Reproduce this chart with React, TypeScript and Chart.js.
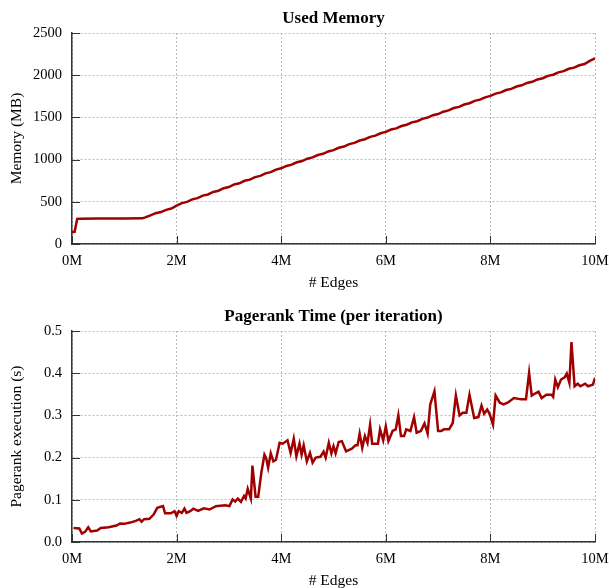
import { useEffect, useRef } from 'react';
import { Chart, registerables } from 'chart.js';

Chart.register(...registerables);

// ---- data (edges in millions) ----
const memEdges = [
  0, 0.05, 0.1, 0.15, 0.5, 1.0, 1.35, 1.4, 1.5, 1.6, 1.7, 1.8, 1.9,
  2.0, 2.1, 2.2, 2.3, 2.4, 2.5, 2.6, 2.7, 2.8, 2.9,
  3.0, 3.1, 3.2, 3.3, 3.4, 3.5, 3.6, 3.7, 3.8, 3.9,
  4.0, 4.1, 4.2, 4.3, 4.4, 4.5, 4.6, 4.7, 4.8, 4.9,
  5.0, 5.1, 5.2, 5.3, 5.4, 5.5, 5.6, 5.7, 5.8, 5.9,
  6.0, 6.1, 6.2, 6.3, 6.4, 6.5, 6.6, 6.7, 6.8, 6.9,
  7.0, 7.1, 7.2, 7.3, 7.4, 7.5, 7.6, 7.7, 7.8, 7.9,
  8.0, 8.1, 8.2, 8.3, 8.4, 8.5, 8.6, 8.7, 8.8, 8.9,
  9.0, 9.1, 9.2, 9.3, 9.4, 9.5, 9.6, 9.7, 9.8, 9.9, 10.0,
];
const memValues = [
  142, 145, 298, 300, 301, 302, 304, 315, 340, 365, 378, 405, 420,
  455, 485, 499, 529, 543, 573, 587, 617, 631, 661,
  675, 705, 719, 749, 763, 793, 807, 837, 851, 881,
  897, 925, 940, 968, 983, 1011, 1026, 1054, 1069, 1097,
  1112, 1140, 1155, 1183, 1198, 1226, 1241, 1269, 1284, 1312,
  1328, 1356, 1370, 1398, 1413, 1441, 1455, 1483, 1498, 1526,
  1540, 1568, 1583, 1611, 1625, 1653, 1668, 1696, 1710, 1738,
  1755, 1782, 1796, 1824, 1838, 1866, 1880, 1908, 1922, 1950,
  1964, 1992, 2006, 2034, 2048, 2076, 2090, 2118, 2132, 2170, 2200,
];

const prEdges = [
  0.03, 0.14, 0.19, 0.25, 0.31, 0.36, 0.48, 0.55, 0.70, 0.85, 0.92, 1.00,
  1.11, 1.22, 1.29, 1.33, 1.38, 1.48, 1.56, 1.63, 1.74, 1.78, 1.89, 1.96,
  2.00, 2.04, 2.10, 2.15, 2.19, 2.26, 2.32, 2.41, 2.52, 2.63, 2.75, 2.93,
  3.01, 3.07, 3.12, 3.17, 3.23, 3.29, 3.32, 3.36, 3.42, 3.45, 3.51, 3.56,
  3.62, 3.68, 3.71, 3.75, 3.80, 3.85, 3.90, 3.97, 4.03, 4.12, 4.18, 4.24,
  4.29, 4.35, 4.39, 4.43, 4.49, 4.55, 4.60, 4.66, 4.75, 4.81, 4.85, 4.91,
  4.96, 5.00, 5.04, 5.10, 5.16, 5.24, 5.35, 5.42, 5.46, 5.50, 5.55, 5.60,
  5.65, 5.70, 5.74, 5.85, 5.89, 5.95, 6.00, 6.05, 6.13, 6.19, 6.24, 6.29,
  6.35, 6.39, 6.47, 6.54, 6.59, 6.67, 6.74, 6.80, 6.85, 6.93, 7.00, 7.06,
  7.11, 7.21, 7.28, 7.34, 7.41, 7.47, 7.54, 7.60, 7.69, 7.77, 7.83, 7.88,
  7.94, 7.99, 8.05, 8.10, 8.18, 8.25, 8.33, 8.45, 8.59, 8.68, 8.74, 8.79,
  8.87, 8.92, 8.98, 9.07, 9.17, 9.20, 9.24, 9.29, 9.35, 9.42, 9.46, 9.51,
  9.55, 9.61, 9.67, 9.72, 9.81, 9.87, 9.96, 10.00,
];
const prTime = [
  0.033, 0.032, 0.020, 0.024, 0.035, 0.025, 0.027, 0.033, 0.035, 0.039, 0.044, 0.043,
  0.046, 0.050, 0.054, 0.048, 0.054, 0.055, 0.065, 0.081, 0.085, 0.068, 0.068, 0.073,
  0.062, 0.073, 0.069, 0.079, 0.069, 0.073, 0.079, 0.074, 0.080, 0.077, 0.085, 0.087,
  0.085, 0.101, 0.096, 0.103, 0.095, 0.109, 0.103, 0.126, 0.103, 0.181, 0.107, 0.107,
  0.164, 0.207, 0.200, 0.176, 0.210, 0.191, 0.195, 0.235, 0.233, 0.241, 0.211, 0.245,
  0.203, 0.233, 0.207, 0.229, 0.191, 0.211, 0.188, 0.200, 0.202, 0.214, 0.200, 0.235,
  0.210, 0.227, 0.210, 0.237, 0.239, 0.215, 0.221, 0.229, 0.229, 0.257, 0.223, 0.251,
  0.235, 0.278, 0.233, 0.233, 0.267, 0.241, 0.274, 0.239, 0.263, 0.267, 0.300, 0.251,
  0.251, 0.267, 0.263, 0.296, 0.259, 0.263, 0.281, 0.257, 0.326, 0.357, 0.263, 0.263,
  0.267, 0.267, 0.282, 0.347, 0.300, 0.306, 0.306, 0.349, 0.294, 0.296, 0.323, 0.304,
  0.314, 0.302, 0.278, 0.347, 0.330, 0.326, 0.330, 0.341, 0.338, 0.338, 0.401, 0.347,
  0.353, 0.356, 0.341, 0.349, 0.349, 0.344, 0.385, 0.367, 0.385, 0.390, 0.399, 0.377,
  0.474, 0.369, 0.375, 0.369, 0.375, 0.369, 0.373, 0.389,
];

const xTickValues = [0, 2, 4, 6, 8, 10];
const memTickValues = [0, 500, 1000, 1500, 2000, 2500];
const prTickValues = [0, 0.1, 0.2, 0.3, 0.4, 0.5];

const FONT = "'Liberation Serif', 'DejaVu Serif', serif";
const LINE_COLOR = '#a00000';

const innerTicks = {
  id: 'innerTicks',
  beforeDatasetsDraw(chart: any) {
    const { ctx, chartArea, scales } = chart;
    ctx.save();
    ctx.strokeStyle = '#333';
    ctx.lineWidth = 1;
    scales.x.ticks.forEach((t: any) => {
      const px = Math.round(scales.x.getPixelForValue(t.value)) + 0.5;
      ctx.beginPath();
      ctx.moveTo(px, chartArea.bottom);
      ctx.lineTo(px, chartArea.bottom - 8);
      ctx.stroke();
    });
    scales.y.ticks.forEach((t: any) => {
      const py = Math.round(scales.y.getPixelForValue(t.value)) + 0.5;
      ctx.beginPath();
      ctx.moveTo(chartArea.left, py);
      ctx.lineTo(chartArea.left + 8, py);
      ctx.stroke();
    });
    ctx.restore();
  },
};

function makeConfig(
  title: string,
  yTitle: string,
  xs: number[],
  ys: number[],
  yTicks: number[],
  yFmt: (v: number) => string,
): any {
  const grid = { color: '#bbbbbb', lineWidth: 1, drawTicks: false };
  const border = { display: true, color: '#333', width: 1.5, dash: [2, 2] };
  return {
    type: 'line',
    data: {
      datasets: [
        {
          data: xs.map((x, i) => ({ x, y: ys[i] })),
          borderColor: LINE_COLOR,
          borderWidth: 2.5,
          pointRadius: 0,
          tension: 0,
          fill: false,
        },
      ],
    },
    options: {
      animation: false,
      responsive: false,
      devicePixelRatio: 1,
      layout: { padding: { top: 0, right: 14, left: 0, bottom: 0 } },
      plugins: {
        legend: { display: false },
        tooltip: { enabled: false },
        title: {
          display: true,
          text: title,
          fullSize: false,
          color: '#000',
          font: { family: FONT, size: 17, weight: 'bold' },
          padding: { top: 8.8, bottom: 3.8 },
        },
      },
      scales: {
        x: {
          type: 'linear',
          min: xTickValues[0],
          max: xTickValues[xTickValues.length - 1],
          afterBuildTicks: (s: any) => {
            s.ticks = xTickValues.map((v) => ({ value: v }));
          },
          afterFit: (s: any) => {
            s.height = 56;
            s.paddingLeft = 0;
            s.paddingRight = 0;
          },
          grid,
          border,
          ticks: {
            color: '#000',
            padding: 8,
            font: { family: FONT, size: 14.5 },
            callback: (v: any) => `${v}M`,
            maxRotation: 0,
          },
          title: {
            display: true,
            text: '# Edges',
            color: '#000',
            font: { family: FONT, size: 15.5 },
            padding: { top: 0, bottom: 7.7 },
          },
        },
        y: {
          type: 'linear',
          min: yTicks[0],
          max: yTicks[yTicks.length - 1],
          afterBuildTicks: (s: any) => {
            s.ticks = yTicks.map((v) => ({ value: v }));
          },
          afterFit: (s: any) => {
            s.width = 72;
          },
          grid,
          border,
          ticks: {
            color: '#000',
            padding: 10,
            font: { family: FONT, size: 14.5 },
            callback: (v: any) => yFmt(Number(v)),
          },
          title: {
            display: true,
            text: yTitle,
            color: '#000',
            font: { family: FONT, size: 15.5 },
            padding: { top: 7.7, bottom: 0 },
          },
        },
      },
    },
    plugins: [innerTicks],
  };
}

export default function App() {
  const topRef = useRef<HTMLCanvasElement>(null);
  const botRef = useRef<HTMLCanvasElement>(null);

  useEffect(() => {
    Chart.defaults.font.family = FONT;
    const c1 = new Chart(
      topRef.current!,
      makeConfig('Used Memory', 'Memory (MB)', memEdges, memValues, memTickValues, (v) => String(v)),
    );
    const c2 = new Chart(
      botRef.current!,
      makeConfig(
        'Pagerank Time (per iteration)',
        'Pagerank execution (s)',
        prEdges,
        prTime,
        prTickValues,
        (v) => v.toFixed(1),
      ),
    );
    return () => {
      c1.destroy();
      c2.destroy();
    };
  }, []);

  return (
    <div
      style={{
        position: 'fixed',
        left: 0,
        top: 0,
        width: 609,
        height: 588,
        overflow: 'hidden',
        background: '#fff',
      }}
    >
      <canvas ref={topRef} width={609} height={300} style={{ position: 'absolute', left: 0, top: 0 }} />
      <canvas ref={botRef} width={609} height={300} style={{ position: 'absolute', left: 0, top: 298 }} />
    </div>
  );
}
